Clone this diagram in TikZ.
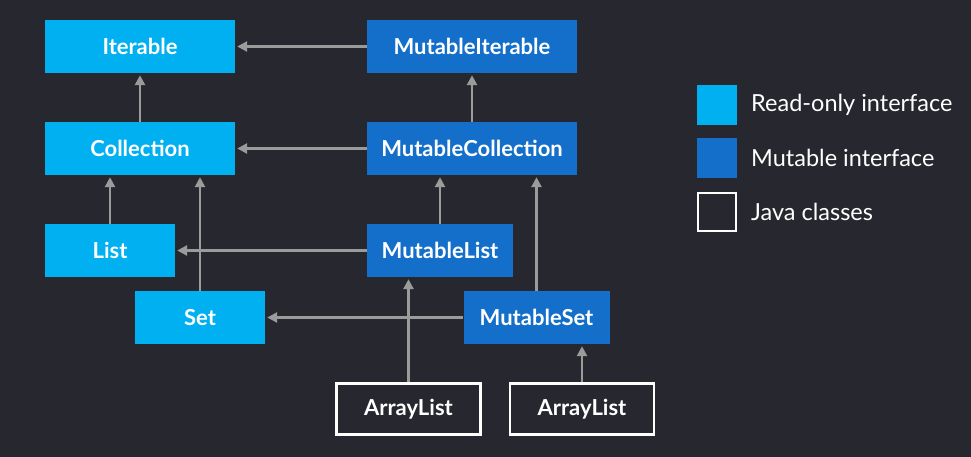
\documentclass[tikz,border=0pt]{standalone}
\usepackage{fontspec}
\setmainfont{Lato}
\usetikzlibrary{arrows.meta}
\definecolor{bgdark}{RGB}{39,40,47}
\definecolor{readonly}{RGB}{0,176,240}
\definecolor{mutable}{RGB}{19,111,201}
\definecolor{arrowgray}{RGB}{155,155,155}
\begin{document}
\begin{tikzpicture}[x=1pt,y=-1pt,
    box/.style={minimum height=53pt, inner sep=0pt, text=white, font=\fontsize{22}{26}\selectfont\bfseries},
    robox/.style={box, fill=readonly},
    mbox/.style={box, fill=mutable},
    jbox/.style={box, draw=white, line width=2.4pt, minimum height=51pt},
    inherit/.style={arrowgray, line width=2.6pt, shorten >=2pt, -{Triangle[width=10pt,length=10pt]}},
    legtext/.style={anchor=west, text=white, inner sep=0pt, font=\fontsize{23.5}{28}\selectfont}]
      \fill[bgdark] (0,0) rectangle (971,457);
      \useasboundingbox (0,0) rectangle (971,457);

      \node[robox, minimum width=190pt] (iter) at (140,46.5) {Iterable};
      \node[mbox, minimum width=210pt] (miter) at (472,46.5) {MutableIterable};
      \node[robox, minimum width=190pt] (coll) at (140,148.5) {Collection};
      \node[mbox, minimum width=210pt] (mcoll) at (472,148.5) {MutableCollection};
      \node[robox, minimum width=130pt] (list) at (110,250.5) {List};
      \node[mbox, minimum width=146pt] (mlist) at (440,250.5) {MutableList};
      \node[robox, minimum width=130pt] (set) at (200,317.5) {Set};
      \node[mbox, minimum width=146pt] (mset) at (536.5,317.5) {MutableSet};
      \node[jbox, minimum width=144pt] (alist) at (408.5,409) {ArrayList};
      \node[jbox, minimum width=144pt] (aset) at (582,409) {ArrayList};

      \draw[inherit] (miter.west) -- (iter.east);
      \draw[inherit] (mcoll.west) -- (coll.east);
      \draw[inherit] (mlist.west) -- (list.east);
      \draw[inherit] (mset.west) -- (set.east);
      \draw[inherit] (coll.north) -- (coll.north |- iter.south);
      \draw[inherit] (mcoll.north) -- (mcoll.north |- miter.south);
      \draw[inherit] (list.north) -- (list.north |- coll.south);
      \draw[inherit] (set.north) -- (set.north |- coll.south);
      \draw[inherit] (mlist.north) -- (mlist.north |- mcoll.south);
      \draw[inherit] (mset.north) -- (mset.north |- mcoll.south);
      \draw[inherit] (alist.north) -- (alist.north |- mlist.south);
      \draw[inherit] (aset.north) -- (aset.north |- mset.south);

      \node[fill=readonly, minimum size=40pt, inner sep=0pt] (kro) at (717,105) {};
      \node[fill=mutable, minimum size=40pt, inner sep=0pt] (kmut) at (717,158) {};
      \node[draw=white, line width=2.4pt, minimum size=38pt, inner sep=0pt] (kjava) at (717,212) {};
      \node[legtext] (lro) at (751,105) {Read-only interface};
      \node[legtext] (lmut) at (751,158) {Mutable interface};
      \node[legtext] (ljava) at (751,212) {Java classes};
    \end{tikzpicture}
\end{document}
